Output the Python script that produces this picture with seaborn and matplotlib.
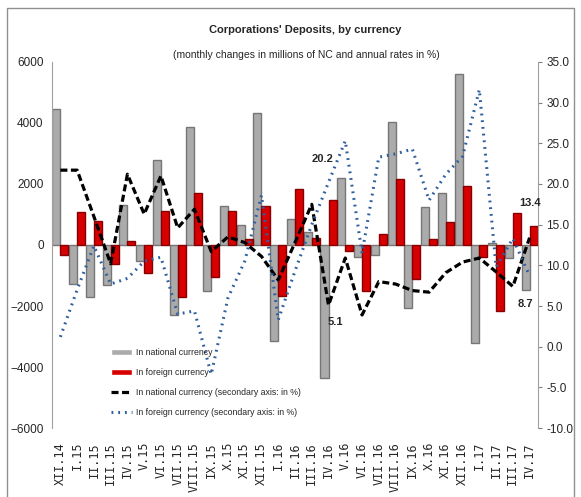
"""
Corporations' Deposits, by currency - monthly changes (bars, left axis)
and annual growth rates (lines, right axis).
"""

import numpy as np
import pandas as pd
import matplotlib.pyplot as plt
from matplotlib.patches import Rectangle
import seaborn as sns

# ---------------------------------------------------------------------------
# Data
# ---------------------------------------------------------------------------
MONTHS = ["XII.14", "I.15", "II.15", "III.15", "IV.15", "V.15", "VI.15",
          "VII.15", "VIII.15", "IX.15", "X.15", "XI.15", "XII.15", "I.16",
          "II.16", "III.16", "IV.16", "V.16", "VI.16", "VII.16", "VIII.16",
          "IX.16", "X.16", "XI.16", "XII.16", "I.17", "II.17", "III.17", "IV.17"]

# monthly changes, millions of NC
NATIONAL = [4450, -1290, -1690, -1300, 1320, -520, 2780, -2280, 3860, -1500,
            1290, 640, 4320, -3150, 860, 430, -4350, 2200, -400, -330,
            4030, -2050, 1260, 1720, 5600, -3200, 50, -430, -1460]
FOREIGN = [-330, 1090, 790, -630, 130, -920, 1120, -1720, 1720, -1060,
           1120, 200, 1290, -1660, 1850, 240, 1460, -190, -1500, 370,
           2150, -1120, 200, 760, 1950, -400, -2180, 1060, 630]

# annual rates, %
NAT_RATE = [21.7, 21.7, 16.0, 10.2, 21.2, 16.3, 21.0, 14.6, 16.9, 11.7,
            13.5, 12.8, 11.1, 8.2, 12.8, 17.5, 5.1, 10.9, 3.9, 8.0,
            7.7, 6.9, 6.7, 9.1, 10.4, 10.9, 9.2, 7.4, 13.4]
FOR_RATE = [1.2, 7.0, 12.4, 7.7, 8.4, 10.5, 11.0, 4.0, 4.4, -3.4,
            6.0, 10.5, 18.6, 3.3, 9.3, 15.0, 20.2, 25.3, 11.5, 23.3,
            23.7, 24.3, 18.0, 21.2, 23.4, 31.6, 9.8, 13.3, 8.7]

SERIES = ["In national currency", "In foreign currency"]
LINE_LABELS = ["In national currency (secondary axis: in %)",
               "In foreign currency (secondary axis: in %)"]

GRAY, GRAY_EDGE = "#ababab", "#767676"
RED, RED_EDGE = "#d60000", "#850000"
BLUE = "#2f5f9e"

sns.set_style("white")
plt.rcParams["font.family"] = ["Liberation Sans", "DejaVu Sans"]


def build_chart():
    df = pd.DataFrame({
        "month": MONTHS * 2,
        "series": [SERIES[0]] * len(MONTHS) + [SERIES[1]] * len(MONTHS),
        "value": NATIONAL + FOREIGN,
    })

    fig = plt.figure(figsize=(5.81, 4.97), dpi=100)
    ax = fig.add_axes([0.0895, 0.1388, 0.8365, 0.7365])

    sns.barplot(data=df, x="month", y="value", hue="series", order=MONTHS,
                hue_order=SERIES, palette=[GRAY, RED], width=0.96,
                dodge=True, ax=ax, saturation=1)
    for cont, edge in zip(ax.containers, [GRAY_EDGE, RED_EDGE]):
        for bar in cont:
            bar.set_edgecolor(edge)
            bar.set_linewidth(1.0)
    ax.get_legend().remove()

    ax.set_ylim(-6000, 6000)
    ax.set_yticks(np.arange(-6000, 6001, 2000))
    ax.set_xlim(-0.5, len(MONTHS) - 0.5)
    ax.set_xlabel("")
    ax.set_ylabel("")
    ax.tick_params(axis="y", length=0, labelsize=8.5, pad=6)
    ax.tick_params(axis="x", length=0, labelsize=8.5, rotation=90, pad=10)
    for lbl in ax.get_xticklabels():
        lbl.set_family("DejaVu Sans Mono")
    for side in ["top", "right", "bottom"]:
        ax.spines[side].set_visible(False)
    ax.spines["left"].set_color("#a0a0a0")

    # secondary axis with the annual rates
    ax2 = ax.twinx()
    xpos = np.arange(len(MONTHS))
    sns.lineplot(x=xpos, y=NAT_RATE, ax=ax2, color="black", linewidth=2.3,
                 linestyle=(0, (2.2, 1.1)), label=LINE_LABELS[0])
    sns.lineplot(x=xpos, y=FOR_RATE, ax=ax2, color=BLUE, linewidth=2.2,
                 linestyle=(0, (0.6, 1.6)), label=LINE_LABELS[1])
    ax2.set_ylim(-10, 35)
    ax2.set_yticks(np.arange(-10, 35.1, 5))
    ax2.set_yticklabels([f"{v:.1f}" for v in np.arange(-10, 35.1, 5)])
    ax2.tick_params(axis="y", length=3, labelsize=8.5, pad=3, color="#808080")
    for side in ["top", "left", "bottom"]:
        ax2.spines[side].set_visible(False)
    ax2.spines["right"].set_color("#a0a0a0")

    # value labels for the last month and April a year before
    for i, vals, off in [(16, FOR_RATE, (-4, 17)), (16, NAT_RATE, (5, -12)),
                         (28, NAT_RATE, (0, 25)), (28, FOR_RATE, (-3, -20))]:
        ax2.annotate(f"{vals[i]:.1f}", (xpos[i], vals[i]), xytext=off,
                     textcoords="offset points", ha="center", va="center",
                     fontsize=8, fontweight="bold")

    h1, l1 = ax.get_legend_handles_labels()
    h2, l2 = ax2.get_legend_handles_labels()
    ax2.legend(h1 + h2, l1 + l2, loc="upper left",
               bbox_to_anchor=(103 / 581, 1 - 340 / 497),
               bbox_transform=fig.transFigure, frameon=False, fontsize=6.3,
               handlelength=2.4, labelspacing=1.25, handletextpad=0.5)

    fig.text(305 / 581, 1 - 30 / 497, "Corporations' Deposits, by currency",
             ha="center", va="center", fontsize=8, fontweight="bold")
    fig.text(306 / 581, 1 - 55 / 497,
             "(monthly changes in millions of NC and annual rates in %)",
             ha="center", va="center", fontsize=7.5)

    fig.patches.append(Rectangle((7 / 581, -0.1), 567 / 581, 1.1 - 8 / 497,
                                 transform=fig.transFigure, fill=False,
                                 edgecolor="#909090", linewidth=1))

    fig.savefig("out.png", dpi=100)
    plt.close(fig)


if __name__ == "__main__":
    build_chart()
